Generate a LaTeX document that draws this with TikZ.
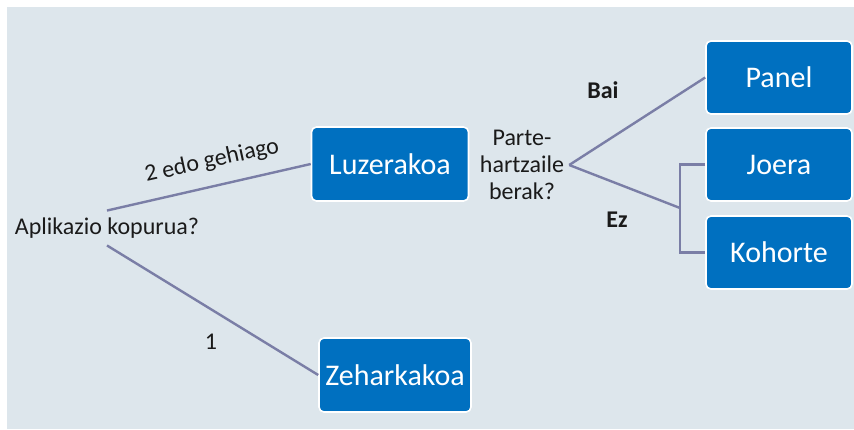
\documentclass[tikz,border=0pt]{standalone}
\usepackage{fontspec}
\setmainfont{Carlito}
\definecolor{bgcol}{RGB}{221,230,236}
\definecolor{boxcol}{RGB}{0,112,192}
\definecolor{linecol}{RGB}{122,126,166}
\definecolor{textcol}{RGB}{26,26,26}
\begin{document}
\begin{tikzpicture}[x=1pt, y=-1pt,
		box/.style={rectangle, rounded corners=5pt, fill=boxcol, draw=white, line width=1.6pt,
			text=white, font=\fontsize{30}{34}\selectfont, inner sep=0pt},
		ask/.style={text=textcol, font=\fontsize{24}{27}\selectfont, inner xsep=5pt, inner ysep=7pt},
		lbl/.style={text=textcol, font=\fontsize{24}{27}\selectfont, inner sep=0pt},
		conn/.style={draw=linecol, line width=2.4pt}]
				\useasboundingbox (0,0) rectangle (854,429);
				\fill[bgcol] (7,7) rectangle (854,429);

				\node[box, minimum width=157pt, minimum height=74pt] (luz) at (390,164) {Luzerakoa};
				\node[box, minimum width=152pt, minimum height=74pt] (zeh) at (395,375) {Zeharkakoa};
				\node[box, minimum width=146pt, minimum height=73pt] (panel) at (779,77.5) {Panel};
				\node[box, minimum width=146pt, minimum height=73pt] (joera) at (779,164.5) {Joera};
				\node[box, minimum width=146pt, minimum height=73pt] (kohorte) at (779,252.5) {Kohorte};

				% galderak
				\node[ask] (q1) at (107,228) {Aplikazio kopurua?};
				\node[ask, align=center] (q2) at (522,165) {Parte-\\hartzaile\\berak?};
				\coordinate (br) at (680,208);

				% lerroak
				\draw[conn] (q1.north) -- (luz.west);
				\draw[conn] (q1.south) -- (zeh.west);
				\draw[conn] (q2.east) -- (panel.west);
				\draw[conn] (q2.east) -- (br);
				\draw[conn] (joera.west) -| (br) |- (kohorte.west);

				% etiketak
				\node[lbl, rotate=12.5] (l2) at (212,161) {2 edo gehiago};
				\node[lbl] (l1) at (211,342) {1};
				\node[lbl, font=\fontsize{24}{27}\selectfont\bfseries] (bai) at (603,90) {Bai};
				\node[lbl, font=\fontsize{24}{27}\selectfont\bfseries] (ez) at (617,220) {Ez};
			\end{tikzpicture}
\end{document}
